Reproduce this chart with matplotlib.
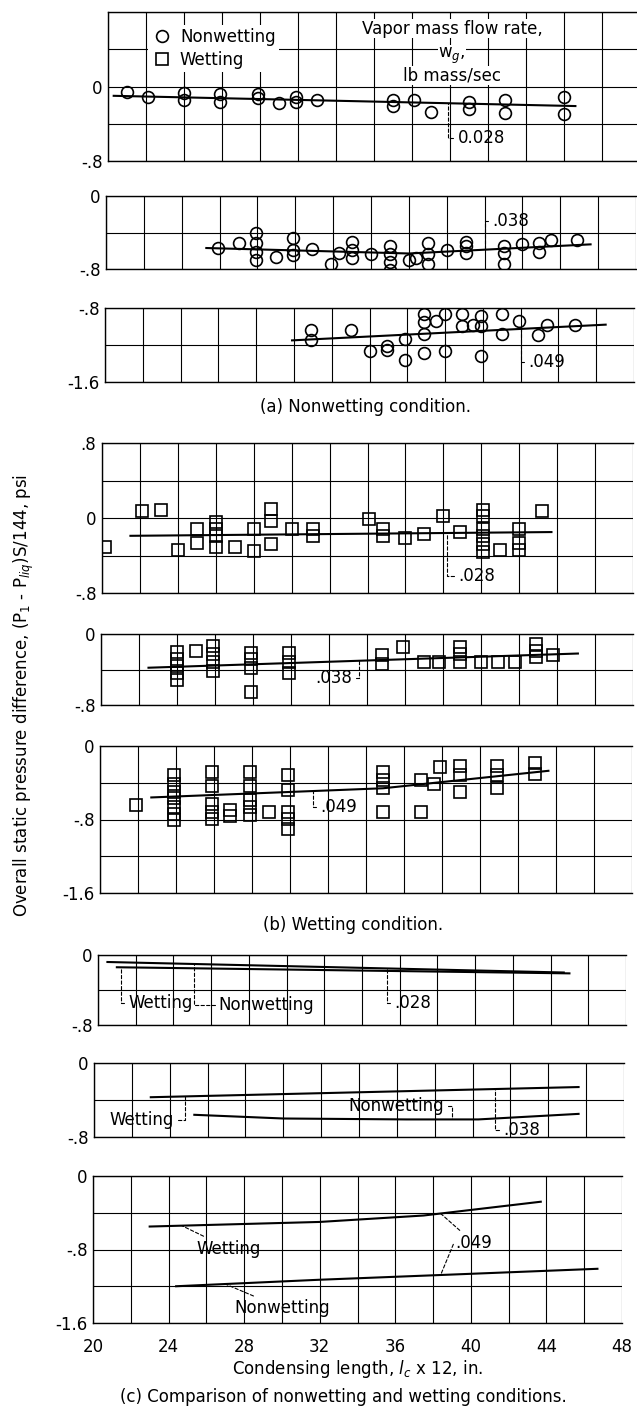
import numpy as np
import matplotlib
matplotlib.use('Agg')
import matplotlib.pyplot as plt
from matplotlib.lines import Line2D

plt.rcParams['font.family'] = ['Liberation Sans Narrow', 'DejaVu Sans']
plt.rcParams['mathtext.fontset'] = 'custom'
plt.rcParams['mathtext.rm'] = 'Liberation Sans Narrow'
plt.rcParams['mathtext.it'] = 'Liberation Sans Narrow:italic'

# ---- (a) nonwetting condition ----
# w_g = 0.028
xa1 = [21.0, 22.1, 24.0, 24.0, 25.9, 25.9, 27.9, 27.9, 29.0, 29.9, 29.9, 31.0,
       35.0, 35.0, 36.1, 37.0, 39.0, 39.0, 40.9, 40.9, 44.0, 44.0]
ya1 = [-0.06, -0.11, -0.07, -0.15, -0.08, -0.17, -0.08, -0.12, -0.18, -0.11, -0.17, -0.15,
       -0.15, -0.21, -0.15, -0.27, -0.17, -0.24, -0.15, -0.28, -0.11, -0.29]
fit_xa1 = [20.3, 44.6]
fit_ya1 = [-0.10, -0.21]

# w_g = 0.038
xa2 = [25.9, 27.0, 27.9, 27.9, 27.9, 27.9, 29.0, 29.9, 29.9, 29.9, 30.9, 31.9, 32.3,
       33.0, 33.0, 33.0, 34.0, 35.0, 35.0, 35.0, 35.0, 36.0, 36.4, 37.0, 37.0, 37.0,
       38.0, 39.0, 39.0, 39.0, 41.0, 41.0, 41.0, 42.0, 42.9, 42.9, 43.5, 44.9]
ya2 = [-0.57, -0.52, -0.41, -0.52, -0.61, -0.70, -0.67, -0.46, -0.59, -0.65, -0.58, -0.75, -0.63,
       -0.50, -0.59, -0.68, -0.64, -0.55, -0.64, -0.72, -0.81, -0.70, -0.68, -0.52, -0.64, -0.74,
       -0.59, -0.50, -0.55, -0.63, -0.55, -0.62, -0.75, -0.53, -0.52, -0.61, -0.48, -0.48]
fit_xa2 = [25.3, 36.0, 45.6]
fit_ya2 = [-0.57, -0.63, -0.53]

# w_g = 0.049
xa3 = [30.9, 30.9, 33.0, 34.0, 34.9, 34.9, 35.9, 35.9, 36.9, 36.9, 36.9, 36.9, 37.5, 38.0,
       38.0, 38.9, 38.9, 39.5, 39.9, 39.9, 39.9, 41.0, 41.0, 41.9, 42.9, 43.4, 44.9]
ya3 = [-1.04, -1.15, -1.04, -1.27, -1.21, -1.25, -1.13, -1.36, -0.87, -0.95, -1.08, -1.29, -0.94, -0.86,
       -1.27, -0.87, -0.99, -0.98, -0.89, -0.99, -1.32, -0.86, -1.08, -0.94, -1.09, -0.98, -0.98]
fit_xa3 = [29.9, 46.5]
fit_ya3 = [-1.15, -0.98]

# ---- (b) wetting condition ----
# w_g = 0.028
xb1 = [20.15, 22.1, 23.1, 24.0, 25.0, 25.0, 26.0, 26.0, 26.0, 26.0, 27.0, 28.0, 28.0,
       28.9, 28.9, 28.9, 30.0, 31.1, 31.1, 34.1, 34.8, 34.8, 36.0, 37.0, 38.0, 38.9,
       40.1, 40.1, 40.1, 40.1, 40.1, 40.1, 41.0, 42.0, 42.0, 42.0, 43.2]
yb1 = [-0.31, 0.08, 0.09, -0.34, -0.12, -0.27, -0.04, -0.12, -0.19, -0.31, -0.31, -0.12, -0.35,
       0.10, -0.03, -0.28, -0.12, -0.12, -0.19, -0.01, -0.12, -0.19, -0.21, -0.17, 0.02, -0.15,
       0.09, 0.02, -0.12, -0.19, -0.28, -0.36, -0.34, -0.12, -0.27, -0.34, 0.07]
fit_xb1 = [21.5, 43.7]
fit_yb1 = [-0.19, -0.15]

# w_g = 0.038
xb2 = [24.0, 24.0, 24.0, 24.0, 24.0, 25.0, 25.9, 25.9, 25.9, 25.9, 27.9, 27.9, 27.9, 27.9,
       29.9, 29.9, 29.9, 34.8, 34.8, 35.9, 37.0, 37.8, 38.9, 38.9, 38.9, 40.0, 40.9, 41.8,
       42.9, 42.9, 42.9, 43.8]
yb2 = [-0.20, -0.28, -0.36, -0.44, -0.52, -0.19, -0.13, -0.22, -0.32, -0.42, -0.21, -0.28, -0.38, -0.65,
       -0.21, -0.32, -0.44, -0.24, -0.34, -0.15, -0.32, -0.32, -0.15, -0.22, -0.32, -0.32, -0.32, -0.32,
       -0.11, -0.19, -0.26, -0.24]
fit_xb2 = [22.5, 45.1]
fit_yb2 = [-0.38, -0.22]

# w_g = 0.049
xb3 = [21.9, 23.9, 23.9, 23.9, 23.9, 23.9, 23.9, 23.9, 25.9, 25.9, 25.9, 25.9, 25.9,
       26.85, 26.85, 27.9, 27.9, 27.9, 27.9, 27.9, 28.9, 29.9, 29.9, 29.9, 29.9, 29.9,
       34.9, 34.9, 34.9, 34.9, 36.9, 36.9, 37.6, 37.9, 38.95, 38.95, 38.95, 40.9, 40.9, 40.9,
       42.9, 42.9]
yb3 = [-0.64, -0.32, -0.41, -0.50, -0.57, -0.66, -0.74, -0.80, -0.28, -0.44, -0.63, -0.72, -0.79,
       -0.70, -0.76, -0.28, -0.44, -0.59, -0.66, -0.75, -0.72, -0.32, -0.48, -0.72, -0.79, -0.90,
       -0.28, -0.37, -0.46, -0.72, -0.37, -0.72, -0.41, -0.23, -0.22, -0.32, -0.50, -0.22, -0.32, -0.46,
       -0.19, -0.30]
fit_xb3 = [22.7, 34.9, 43.6]
fit_yb3 = [-0.56, -0.46, -0.27]

# ---- (c) comparison (faired curves) ----
c1_non_x, c1_non_y = [20.5, 44.7], [-0.08, -0.20]
c1_wet_x, c1_wet_y = [21.0, 45.0], [-0.14, -0.21]
c2_non_x, c2_non_y = [25.3, 30.0, 36.5, 40.3, 45.6], [-0.56, -0.60, -0.61, -0.61, -0.55]
c2_wet_x, c2_wet_y = [23.0, 45.6], [-0.37, -0.26]
c3_non_x, c3_non_y = [24.4, 31.9, 38.1, 46.7], [-1.20, -1.13, -1.08, -1.01]
c3_wet_x, c3_wet_y = [23.0, 32.0, 37.5, 43.7], [-0.55, -0.50, -0.43, -0.28]

W, H = 637, 1418
fig = plt.figure(figsize=(W / 100, H / 100), dpi=100)
FS = 12


def fmt(v):
    if abs(v) < 1e-9:
        return '0'
    s = f'{abs(v):.1f}'.lstrip('0')
    return ('-' if v < 0 else '') + s


def panel(L, R, T, B, ylo, yhi, labeled, xlabels=False):
    ax = fig.add_axes([L / W, 1 - B / H, (R - L) / W, (B - T) / H])
    ax.set_xlim(20, 48)
    ax.set_ylim(ylo, yhi)
    yt = np.round(np.arange(ylo, yhi + 0.01, 0.4), 2)
    ax.set_yticks(yt)
    ax.set_yticklabels([fmt(v) if any(abs(v - l) < 1e-6 for l in labeled) else '' for v in yt],
                       fontsize=FS)
    xt = np.arange(20, 49, 2)
    ax.set_xticks(xt)
    if xlabels:
        ax.set_xticklabels([str(v) if v % 4 == 0 else '' for v in xt], fontsize=FS)
    else:
        ax.set_xticklabels([])
    ax.tick_params(axis='y', length=0, pad=4)
    ax.tick_params(axis='x', length=0, pad=11)
    ax.grid(True, color='black', lw=0.8)
    for s in ax.spines.values():
        s.set_linewidth(1.0)
    ax.spines['right'].set_visible(False)
    return ax


mk = dict(ls='none', mfc='none', mec='black', mew=1.2, ms=8.5)
line = dict(color='black', lw=1.5)


def leader(ax, text, xy, xytext, ha='left', conn='angle,angleA=0,angleB=90,rad=0'):
    ax.annotate(text, xy=xy, xytext=xytext, ha=ha, va='center', fontsize=FS,
                arrowprops=dict(arrowstyle='-', ls=(0, (3, 2)), lw=0.8, color='black',
                                connectionstyle=conn, shrinkA=1, shrinkB=0))


# (a)
ax = panel(108, 640, 12, 161, -0.8, 0.8, [0, -0.8])
ax.plot(xa1, ya1, 'o', **mk)
ax.plot(fit_xa1, fit_ya1, **line)
leader(ax, '0.028', (37.9, np.interp(37.9, fit_xa1, fit_ya1)), (38.4, -0.55))
handles = [Line2D([], [], marker='o', **mk), Line2D([], [], marker='s', **mk)]
leg = ax.legend(handles, ['Nonwetting', 'Wetting'], loc='upper left',
                bbox_to_anchor=(0.06, 0.97), frameon=True, fontsize=FS,
                handletextpad=0.5, labelspacing=0.3, borderpad=0.2, handlelength=1.2)
leg.get_frame().set_edgecolor('none')
leg.get_frame().set_alpha(1)
wbox = dict(facecolor='white', edgecolor='none', pad=0.5)
ax.text(38.1, 0.62, 'Vapor mass flow rate,', ha='center', va='center', fontsize=FS, bbox=wbox)
ax.text(38.1, 0.33, r'w$_g$,', ha='center', va='center', fontsize=FS, bbox=wbox)
ax.text(38.1, 0.12, 'lb mass/sec', ha='center', va='center', fontsize=FS, bbox=wbox)

ax = panel(106, 636, 196, 269, -0.8, 0, [0, -0.8])
ax.plot(xa2, ya2, 'o', **mk)
ax.plot(fit_xa2, fit_ya2, **line)
leader(ax, '.038', (40.0, np.interp(40.0, fit_xa2, fit_ya2)), (40.4, -0.27))

ax = panel(105, 634, 308, 382, -1.6, -0.8, [-0.8, -1.6])
ax.plot(xa3, ya3, 'o', **mk)
ax.plot(fit_xa3, fit_ya3, **line)
leader(ax, '.049', (42.0, np.interp(42.0, fit_xa3, fit_ya3)), (42.4, -1.38))

fig.text(366 / W, 1 - 407 / H, '(a) Nonwetting condition.', ha='center', va='center', fontsize=FS)

# (b)
ax = panel(102, 633, 443, 593, -0.8, 0.8, [0.8, 0, -0.8])
ax.plot(xb1, yb1, 's', **mk)
ax.plot(fit_xb1, fit_yb1, **line)
leader(ax, '.028', (38.2, np.interp(38.2, fit_xb1, fit_yb1)), (38.8, -0.62))

ax = panel(101, 633, 634, 705, -0.8, 0, [0, -0.8])
ax.plot(xb2, yb2, 's', **mk)
ax.plot(fit_xb2, fit_yb2, **line)
leader(ax, '.038', (33.6, np.interp(33.6, fit_xb2, fit_yb2)), (33.2, -0.50), ha='right')

ax = panel(100, 632, 746, 893, -1.6, 0, [0, -0.8, -1.6])
ax.plot(xb3, yb3, 's', **mk)
ax.plot(fit_xb3, fit_yb3, **line)
leader(ax, '.049', (31.2, np.interp(31.2, fit_xb3, fit_yb3)), (31.6, -0.66))

fig.text(353 / W, 1 - 925 / H, '(b) Wetting condition.', ha='center', va='center', fontsize=FS)

# (c)
ax = panel(98, 626, 955, 1025, -0.8, 0, [0, -0.8])
ax.plot(c1_non_x, c1_non_y, **line)
ax.plot(c1_wet_x, c1_wet_y, **line)
leader(ax, 'Wetting', (21.2, np.interp(21.2, c1_wet_x, c1_wet_y)), (21.6, -0.55))
leader(ax, 'Nonwetting', (25.1, np.interp(25.1, c1_non_x, c1_non_y)), (26.4, -0.57))
leader(ax, '.028', (35.3, np.interp(35.3, c1_non_x, c1_non_y)), (35.7, -0.55))

ax = panel(94, 624, 1063, 1137, -0.8, 0, [0, -0.8])
ax.plot(c2_non_x, c2_non_y, **line)
ax.plot(c2_wet_x, c2_wet_y, **line)
leader(ax, 'Wetting', (24.8, np.interp(24.8, c2_wet_x, c2_wet_y)), (24.2, -0.62), ha='right')
leader(ax, 'Nonwetting', (38.9, np.interp(38.9, c2_non_x, c2_non_y)), (38.5, -0.47), ha='right')
leader(ax, '.038', (41.2, np.interp(41.2, c2_wet_x, c2_wet_y)), (41.6, -0.72))

ax = panel(93, 622, 1176, 1323, -1.6, 0, [0, -0.8, -1.6], xlabels=True)
ax.plot(c3_non_x, c3_non_y, **line)
ax.plot(c3_wet_x, c3_wet_y, **line)
leader(ax, 'Wetting', (24.7, np.interp(24.7, c3_wet_x, c3_wet_y)), (25.5, -0.79),
       conn='arc3,rad=0')
leader(ax, 'Nonwetting', (27.0, np.interp(27.0, c3_non_x, c3_non_y)), (27.5, -1.44),
       conn='arc3,rad=0')
leader(ax, '.049', (38.4, np.interp(38.4, c3_wet_x, c3_wet_y)), (39.2, -0.73), conn='arc3,rad=0')
leader(ax, '', (38.4, np.interp(38.4, c3_non_x, c3_non_y)), (39.1, -0.73), conn='arc3,rad=0')
ax.set_xlabel(r'Condensing length, $l_c$ x 12, in.', fontsize=FS, labelpad=1)

fig.text(343 / W, 1 - 1397 / H, '(c) Comparison of nonwetting and wetting conditions.',
         ha='center', va='center', fontsize=FS)

fig.text(24 / W, 1 - 695 / H,
         r'Overall static pressure difference, (P$_1$ - P$_{liq}$)S/144, psi',
         rotation=90, ha='center', va='center', fontsize=FS)

fig.savefig('out.png', dpi=100)
